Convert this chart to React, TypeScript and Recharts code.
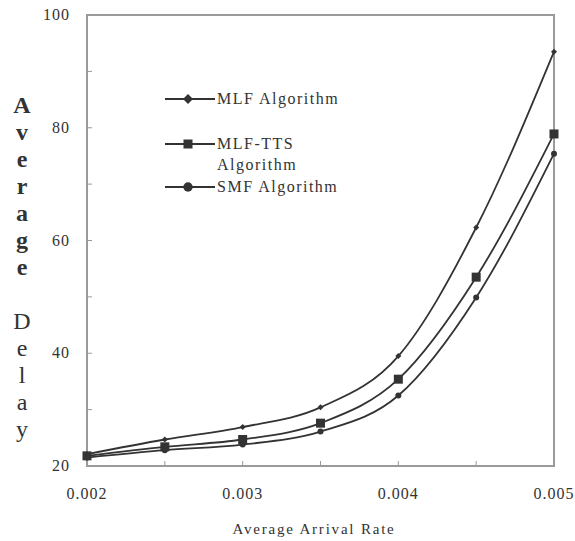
import { LineChart, Line, XAxis, YAxis, ReferenceArea } from 'recharts'

const rates = [0.002, 0.0025, 0.003, 0.0035, 0.004, 0.0045, 0.005]
const mlf = [22.1, 24.7, 26.9, 30.4, 39.5, 62.3, 93.5]
const mlfTts = [21.8, 23.4, 24.7, 27.6, 35.4, 53.5, 78.9]
const smf = [21.5, 22.8, 23.8, 26.1, 32.5, 49.9, 75.4]

const xTicks = [0.002, 0.0025, 0.003, 0.0035, 0.004, 0.0045, 0.005]
const yTicks = [20, 30, 40, 50, 60, 70, 80, 90, 100]

const data = rates.map((r, i) => ({ rate: r, mlf: mlf[i], mlfTts: mlfTts[i], smf: smf[i] }))

const INK = '#333'
const FONT = "'Liberation Serif', 'Times New Roman', serif"

function Diamond({ cx, cy, r = 5 }: any) {
  if (cx == null || cy == null) return null
  return <path d={`M${cx},${cy - r}L${cx + r},${cy}L${cx},${cy + r}L${cx - r},${cy}Z`} fill={INK} />
}
function Square({ cx, cy, s = 9 }: any) {
  if (cx == null || cy == null) return null
  return <rect x={cx - s / 2} y={cy - s / 2} width={s} height={s} fill={INK} />
}
function Circle({ cx, cy, r = 4.7 }: any) {
  if (cx == null || cy == null) return null
  return <circle cx={cx} cy={cy} r={r} fill={INK} />
}

function XTick({ x, y, payload }: any) {
  const v = payload.value
  const major = Math.round(v * 10000) % 10 === 0
  return (
    <g>
      <line x1={x} y1={y} x2={x} y2={y - 5} stroke="#999" strokeWidth={1} />
      {major && (
        <text x={x} y={y + 33} textAnchor="middle" style={{ fontFamily: FONT, fontSize: 16, letterSpacing: 1 }} fill={INK}>
          {v.toFixed(3)}
        </text>
      )}
    </g>
  )
}

function YTick({ x, y, payload }: any) {
  const v = payload.value
  return (
    <g>
      <line x1={x} y1={y} x2={x + 5} y2={y} stroke="#999" strokeWidth={1} />
      {v % 20 === 0 && (
        <text x={x - 17} y={y + 5} textAnchor="end" style={{ fontFamily: FONT, fontSize: 16, letterSpacing: 1 }} fill={INK}>
          {v}
        </text>
      )}
    </g>
  )
}

const legendItems = [
  { lines: ['MLF Algorithm'], y: 99, Marker: Diamond },
  { lines: ['MLF-TTS', 'Algorithm'], y: 144, Marker: Square },
  { lines: ['SMF Algorithm'], y: 187, Marker: Circle },
]

const yLabel = 'Average Delay'.split('')

export default function App() {
  return (
    <div style={{ position: 'absolute', left: 0, top: 0, width: 575, height: 541, background: '#fff' }}>
      <LineChart width={575} height={541} data={data} margin={{ top: 15, right: 21, bottom: 0, left: 0 }}>
        <XAxis
          dataKey="rate"
          type="number"
          domain={[0.002, 0.005]}
          ticks={xTicks}
          height={75}
          axisLine={false}
          tickLine={false}
          tickSize={0}
          tickMargin={0}
          tick={<XTick />}
          interval={0}
        />
        <YAxis
          type="number"
          domain={[20, 100]}
          ticks={yTicks}
          width={87}
          axisLine={false}
          tickLine={false}
          tickSize={0}
          tickMargin={0}
          tick={<YTick />}
          interval={0}
        />
        <ReferenceArea x1={0.002} x2={0.005} y1={20} y2={100} stroke="#9a9a9a" strokeWidth={2} fill="none" fillOpacity={0} />
        <Line type="monotone" dataKey="mlf" stroke={INK} strokeWidth={1.8} dot={<Diamond />} activeDot={false} isAnimationActive={false} />
        <Line type="monotone" dataKey="mlfTts" stroke={INK} strokeWidth={1.8} dot={<Square />} activeDot={false} isAnimationActive={false} />
        <Line type="monotone" dataKey="smf" stroke={INK} strokeWidth={1.8} dot={<Circle />} activeDot={false} isAnimationActive={false} />
      </LineChart>
      <svg width={575} height={541} style={{ position: 'absolute', left: 0, top: 0, pointerEvents: 'none' }}>
        {yLabel.map((ch, i) => (
          <text
            key={i}
            x={22}
            y={113 + i * 27}
            textAnchor="middle"
            style={{ fontFamily: FONT, fontSize: 24, fontWeight: i < 7 ? 'bold' : 'normal' }}
            fill={INK}
          >
            {ch}
          </text>
        ))}
        {legendItems.map((it, i) => (
          <g key={i}>
            <line x1={165} y1={it.y} x2={215} y2={it.y} stroke={INK} strokeWidth={1.8} />
            <it.Marker cx={188} cy={it.y} />
            {it.lines.map((t, j) => (
              <text key={j} x={217} y={it.y + 5 + j * 21} style={{ fontFamily: FONT, fontSize: 16, letterSpacing: 1.5 }} fill={INK}>
                {t}
              </text>
            ))}
          </g>
        ))}
        <text x={314} y={534} textAnchor="middle" style={{ fontFamily: FONT, fontSize: 15, letterSpacing: 1.8 }} fill={INK}>
          Average Arrival Rate
        </text>
      </svg>
    </div>
  )
}
